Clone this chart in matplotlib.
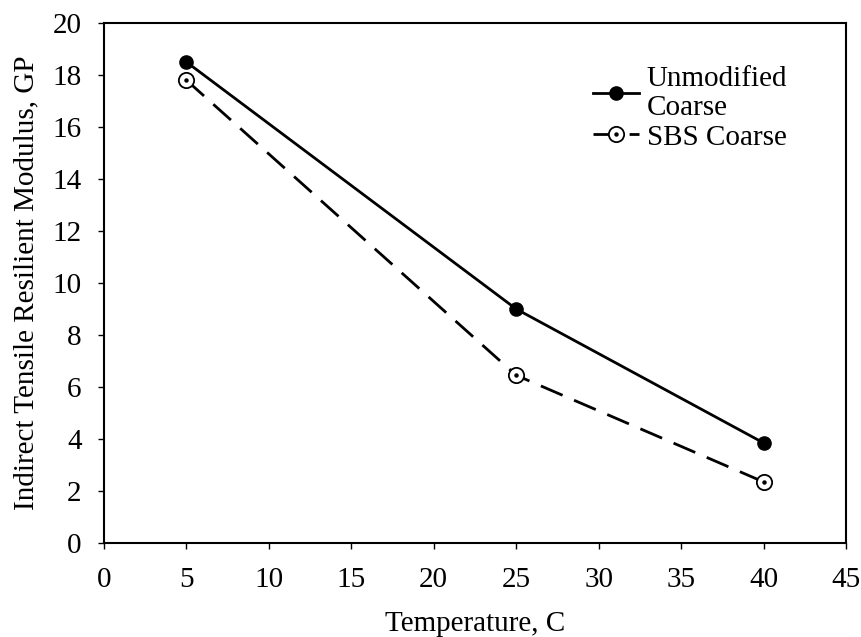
import numpy as np
import matplotlib.pyplot as plt
plt.rcParams['font.family'] = ['Liberation Serif', 'DejaVu Serif']

temp = [5, 25, 40]
unmodified = [18.5, 9.0, 3.85]
sbs = [17.8, 6.45, 2.35]

fig = plt.figure(figsize=(8.62, 6.37), dpi=100)
ax = fig.add_axes([0.1206, 0.1476, 0.8608, 0.8163])

l1, = ax.plot(temp, unmodified, color='black', lw=2, marker='o', ms=9.5)
l2, = ax.plot(temp, sbs, color='black', lw=2, ls=(0, (8.5, 4.5)), marker='o', ms=11,
              mfc='white', mec='black', mew=1.3)
# centre dot of the open markers
d2, = ax.plot(temp, sbs, ls='none', marker='o', ms=2.2, color='black')

ax.set_xlim(0, 45)
ax.set_ylim(0, 20)
ax.set_xticks(np.arange(0, 46, 5))
ax.set_yticks(np.arange(0, 21, 2))
ax.tick_params(labelsize=21, direction='out', length=4, width=1, pad=12)
ax.tick_params(axis='x', pad=13)
for s in ax.spines.values():
    s.set_linewidth(1.5)

ax.set_xlabel('Temperature, C', fontsize=21, labelpad=13)
ax.set_ylabel('Indirect Tensile Resilient Modulus, GP', fontsize=21, labelpad=9.5)

leg = ax.legend([l1, (l2, d2)], ['Unmodified\nCoarse', 'SBS Coarse'],
                loc='upper left', bbox_to_anchor=(0.639, 0.945), frameon=False, fontsize=21,
                borderpad=0, handlelength=1.6, handletextpad=0.25, labelspacing=0.1)
for t in leg.get_texts():
    t.set_linespacing(1.15)

fig.savefig('out.png', dpi=100)
